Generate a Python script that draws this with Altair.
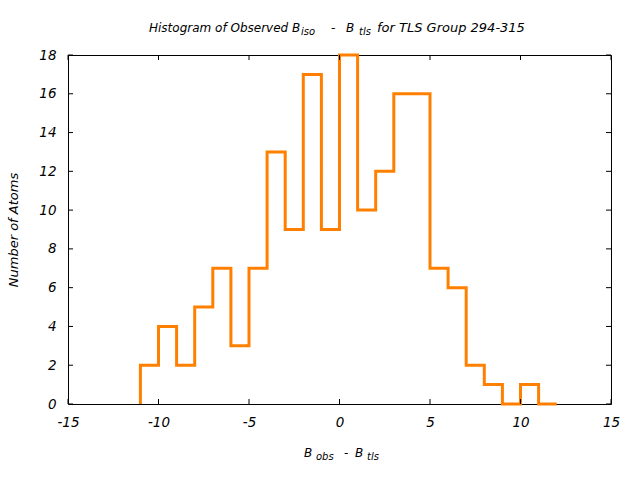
import altair as alt
import pandas as pd

# ---- data ----
bin_left = [-11, -10, -9, -8, -7, -6, -5, -4, -3, -2, -1, 0, 1, 2, 3, 4, 5, 6, 7, 8, 9, 10, 11]
counts = [2, 4, 2, 5, 7, 3, 7, 13, 9, 17, 9, 18, 10, 12, 16, 16, 7, 6, 2, 1, 0, 1, 0]
bin_width = 1
x_ticks = [-15, -10, -5, 0, 5, 10, 15]
y_ticks = [0, 2, 4, 6, 8, 10, 12, 14, 16, 18]

W, H = 543, 349
LEFT, TOP = 68, 55
FONT = "DejaVu Sans"

xs = [bin_left[0]] + bin_left + [bin_left[-1] + bin_width]
ys = [0] + counts + [counts[-1]]
steps = pd.DataFrame({"x": xs, "y": ys, "i": list(range(len(xs)))})

xscale = alt.Scale(domain=[-15, 15], nice=False, zero=False)
yscale = alt.Scale(domain=[0, 18], nice=False, zero=False)

axis_common = dict(title=None, ticks=False, domain=False, grid=False, labelFlush=False,
                   labelFont=FONT, labelFontStyle="italic", labelFontSize=13.5,
                   labelColor="black", labelExpr="'' + datum.value")
xaxis = alt.Axis(values=x_ticks, labelPadding=11, **axis_common)
yaxis = alt.Axis(values=y_ticks, labelPadding=12, **axis_common)

hist = alt.Chart(steps).mark_line(
    interpolate="step-after", color="#ff8000", strokeWidth=3, clip=False
).encode(
    x=alt.X("x:Q", scale=xscale, axis=xaxis),
    y=alt.Y("y:Q", scale=yscale, axis=yaxis),
    order="i:Q",
)

xt = pd.DataFrame({"x": x_ticks})
yt = pd.DataFrame({"y": y_ticks})
TL = 5
tick_b = alt.Chart(xt).mark_rule(color="black", strokeWidth=1).encode(
    x=alt.X("x:Q", scale=xscale, axis=xaxis), y=alt.value(H - TL), y2=alt.value(H))
tick_t = alt.Chart(xt).mark_rule(color="black", strokeWidth=1).encode(
    x=alt.X("x:Q", scale=xscale, axis=xaxis), y=alt.value(0), y2=alt.value(TL))
tick_l = alt.Chart(yt).mark_rule(color="black", strokeWidth=1).encode(
    y=alt.Y("y:Q", scale=yscale, axis=yaxis), x=alt.value(0), x2=alt.value(TL))
tick_r = alt.Chart(yt).mark_rule(color="black", strokeWidth=1).encode(
    y=alt.Y("y:Q", scale=yscale, axis=yaxis), x=alt.value(W - TL), x2=alt.value(W))


def label(text, ax, ay, size=12, angle=0, align="left"):
    return alt.Chart(pd.DataFrame({"t": [text]})).mark_text(
        font=FONT, fontStyle="italic", fontSize=size, align=align,
        baseline="alphabetic", angle=angle, color="black"
    ).encode(x=alt.value(ax - LEFT), y=alt.value(ay - TOP), text="t:N")


title_parts = [
    label("Histogram of Observed B", 149, 32),
    label("iso", 301, 35, size=10),
    label("-", 331, 32),
    label("B", 346, 32),
    label("tls", 359, 35, size=10),
    label("for TLS Group 294-315", 377, 32, size=13),
]
xlab_parts = [
    label("B", 304, 457),
    label("obs", 316, 460, size=10),
    label("-", 344, 457),
    label("B", 355, 457),
    label("tls", 367, 460, size=10),
]
ylab = label("Number of Atoms", 18, 230, size=13, angle=270, align="center")

chart = alt.layer(
    hist, tick_b, tick_t, tick_l, tick_r, *title_parts, *xlab_parts, ylab
).properties(
    width=W, height=H,
    padding={"left": LEFT, "top": TOP, "right": 640 - LEFT - W, "bottom": 480 - TOP - H},
    autosize=alt.AutoSizeParams(type="none"),
    background="white",
).configure_view(stroke="black", strokeWidth=1)

chart.save("out.html", embed_options={"renderer": "svg", "actions": False})
